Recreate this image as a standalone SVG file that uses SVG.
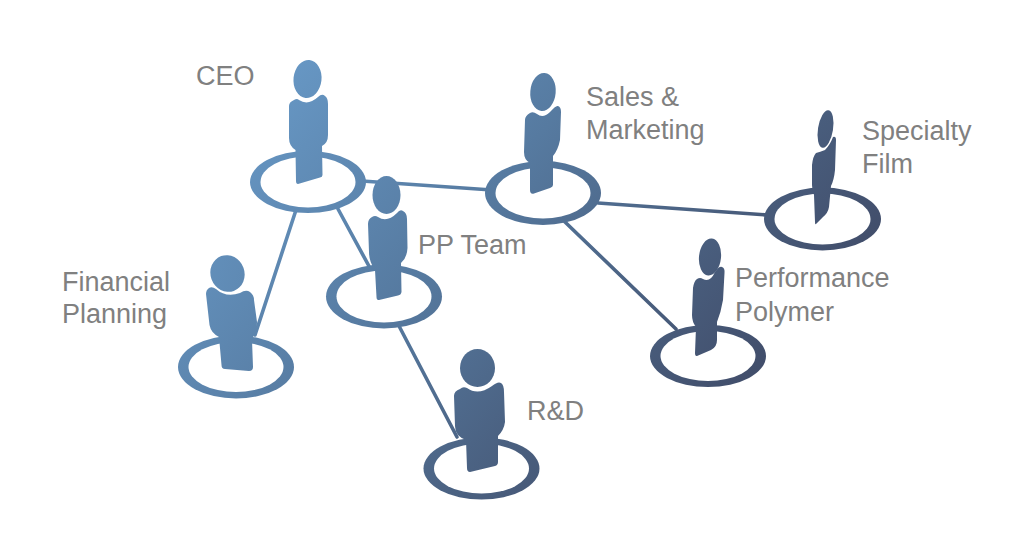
<svg xmlns="http://www.w3.org/2000/svg" width="1024" height="541" viewBox="0 0 1024 541">
<defs>
<linearGradient id="g" gradientUnits="userSpaceOnUse" x1="250" y1="60" x2="700" y2="450">
<stop offset="0" stop-color="#699bc9"/>
<stop offset="0.45" stop-color="#567aa0"/>
<stop offset="0.75" stop-color="#4a6080"/>
<stop offset="1" stop-color="#414d6a"/>
</linearGradient>
</defs>
<style>
.o{fill:url(#g)}
.i{fill:#fff}
.b{fill:url(#g)}
.c{stroke:url(#g);stroke-width:3.6;fill:none;stroke-linecap:round}
text{font-family:"Liberation Sans",Arial,sans-serif;font-size:27px;fill:#808080}
</style>
<rect width="1024" height="541" fill="#fff"/>
<g id="connectors">
<line class="c" x1="362" y1="181" x2="492" y2="190"/>
<line class="c" x1="296" y1="210" x2="255" y2="335"/>
<line class="c" x1="338" y1="209" x2="370" y2="268"/>
<line class="c" x1="399" y1="326" x2="457" y2="437"/>
<line class="c" x1="565" y1="222" x2="676" y2="329"/>
<line class="c" x1="598" y1="203" x2="767" y2="215"/>
</g>
<g id="ceo">
<ellipse class="o" cx="308" cy="182" rx="58" ry="31"/><ellipse class="i" cx="308" cy="182" rx="47.5" ry="25.5"/>
<ellipse class="o" cx="307.5" cy="79" rx="14" ry="19" transform="rotate(6 307.5 79)"/>
<path class="b" d="M294 100Q297 98 299 100Q308 106 318 97Q322 93 325 96Q328 98 328 104L328 135Q328 143 322 146L322.500 175Q322.500 177 320 177.500L298 184Q296 184 296 181L295.500 150Q289 146 289 138L289 106Q289 102 294 100Z"/>
<text x="196" y="85">CEO</text>
</g>
<g id="pp-team">
<ellipse class="o" cx="384" cy="296.500" rx="58" ry="32"/><ellipse class="i" cx="384" cy="296.500" rx="47.500" ry="26"/>
<ellipse class="o" cx="386.500" cy="195" rx="14" ry="19"/>
<path class="b" d="M372 217Q375 215 378 217Q387 223 397 213Q400 209 403 211Q407 213 407 219L407.500 248Q407 258 401 263L401.500 292Q401 295 398 295.500L379 300Q376.500 300.500 376.500 297L375 270Q369 262 369 252L368 224Q368 219 372 217Z"/>
<text x="418" y="254">PP Team</text>
</g>
<g id="financial-planning">
<ellipse class="o" cx="236" cy="367" rx="58" ry="31.500"/><ellipse class="i" cx="236" cy="367" rx="47.500" ry="25"/>
<ellipse class="o" cx="227.500" cy="273.500" rx="17" ry="18.500" transform="rotate(-20 227.500 273.500)"/>
<path class="b" d="M209 288Q212 286 216 289Q226 298 240 293Q246 289 250 292Q254 295 254 300L257 322Q257 332 253 337L252 340L253 367Q253 371 249 371L225 369Q221.500 369 221.500 365L219 337Q211 333 209.500 325L206 294Q206 290 209 288Z"/>
<text x="62" y="291">Financial</text><text x="62" y="323">Planning</text>
</g>
<g id="r-d">
<ellipse class="o" cx="481.500" cy="468.500" rx="58" ry="31"/><ellipse class="i" cx="481.500" cy="468.500" rx="47.500" ry="25"/>
<ellipse class="o" cx="477.500" cy="368" rx="17.500" ry="19"/>
<path class="b" d="M460 389Q463 386 467 388Q478 396 492 386Q498 381 501 383Q504 385 504 392L505 422Q504 430 498 436L498 462Q498 465 495 466L470 472Q467 472 467 468L466 440Q455 436 455 426L454 396Q454 391 460 389Z"/>
<text x="527" y="420">R&amp;D</text>
</g>
<g id="sales-marketing">
<ellipse class="o" cx="543" cy="193" rx="58" ry="32"/><ellipse class="i" cx="543" cy="193" rx="47.500" ry="25.500"/>
<ellipse class="o" cx="543" cy="92" rx="12.700" ry="19" transform="rotate(5 543 92)"/>
<path class="b" d="M530 113Q533 111 537 114Q543 119 550 112Q556 105 558 106Q561 107 561 112L560 140Q558 150 553 156L553 185Q553 187 550 188L534 193.500Q530 194.500 530 190L530 163Q524 160 524 152L525 120Q525 116 530 113Z"/>
<text x="586" y="106">Sales &amp;</text><text x="586" y="139">Marketing</text>
</g>
<g id="specialty-film">
<ellipse class="o" cx="822.500" cy="219" rx="58.500" ry="31.500"/><ellipse class="i" cx="822.500" cy="219" rx="48" ry="25.500"/>
<ellipse class="o" cx="825.500" cy="129" rx="7.500" ry="19" transform="rotate(9 825.500 129)"/>
<path class="b" d="M816 153Q820 152 825 150Q830 145 833 137Q836 136 836 140L835 170Q834 180 831 186L829 207Q828 213 823 217L816 224Q815 225 815 222L814 195Q812 190 812 185L812 165Q813 156 816 153Z"/>
<text x="862" y="140">Specialty</text><text x="862" y="173">Film</text>
</g>
<g id="performance-polymer">
<ellipse class="o" cx="708" cy="356" rx="58" ry="31"/><ellipse class="i" cx="708" cy="356" rx="47.500" ry="25"/>
<ellipse class="o" cx="710" cy="257" rx="11" ry="18.500" transform="rotate(6 710 257)"/>
<path class="b" d="M697 279Q700 277 703 279Q710 283 715 272Q719 266 722 267Q725 268 724.500 273L723 300Q721 312 717 322L717 340Q717 347 711 350L697 356Q695 356.500 695 353L696 327Q692 322 692 315L693 288Q694 281 697 279Z"/>
<text x="735" y="287">Performance</text><text x="735" y="321">Polymer</text>
</g>
</svg>
